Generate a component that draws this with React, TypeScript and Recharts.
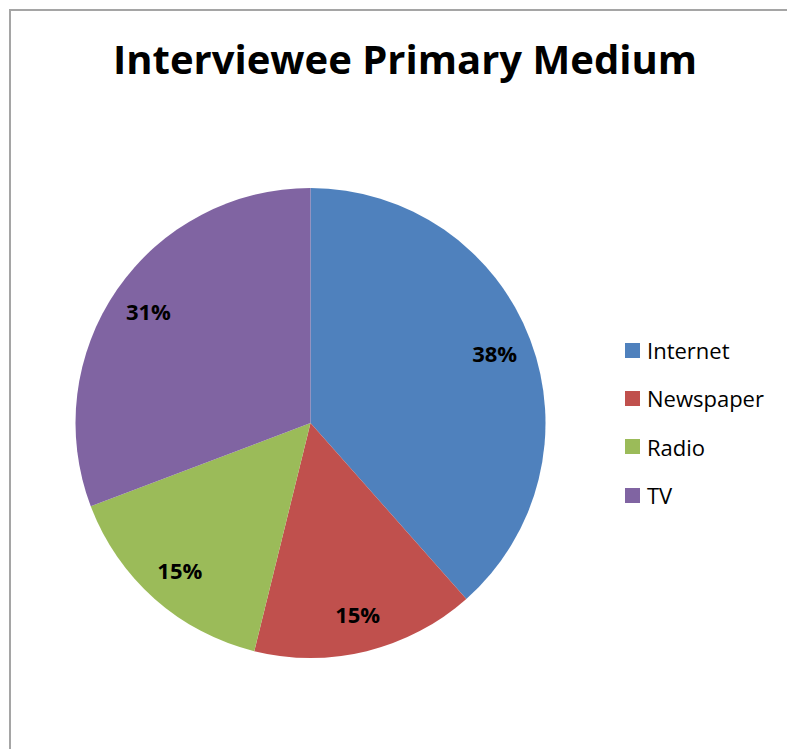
import { PieChart, Pie, Cell, Legend } from 'recharts';

const categories = ['Internet', 'Newspaper', 'Radio', 'TV'];
const counts = [5, 2, 2, 4];
const COLORS = ['#4F81BD', '#C0504D', '#9BBB59', '#8064A2'];

const data = categories.map((name, i) => ({ name, value: counts[i] }));
const total = counts.reduce((a, b) => a + b, 0);

const FONT = '"Open Sans", "Noto Sans", sans-serif';
const RAD = Math.PI / 180;

const renderLabel = ({ cx, cy, midAngle, value }: any) => {
    const r = 197;
    const x = cx + r * Math.cos(-midAngle * RAD);
    const y = cy + r * Math.sin(-midAngle * RAD);
    return (
        <text x={x} y={y} textAnchor="middle" dominantBaseline="central"
            fontFamily={FONT} fontWeight={700} fontSize={22} fill="#000">
            {Math.round((value / total) * 100) + '%'}
        </text>
    );
};

const CustomLegend = ({ payload }: any) => (
    <div>
        {(payload || []).map((p: any, i: number) => (
            <div key={i} style={{ display: 'flex', alignItems: 'center', height: 48.3 }}>
                <span style={{ width: 15, height: 15, background: p.color, display: 'inline-block', marginRight: 7 }} />
                <span style={{ fontFamily: FONT, fontSize: 22, color: '#000', lineHeight: '22px' }}>{p.value}</span>
            </div>
        ))}
    </div>
);

export default function App() {
    return (
        <div style={{ position: 'absolute', left: 0, top: 0, width: 787, height: 749, overflow: 'hidden', background: '#fff' }}>
            <div style={{ position: 'absolute', left: 8.5, top: 8.5, width: 800, height: 760, borderLeft: '2px solid #a5a5a5', borderTop: '2px solid #a5a5a5' }} />
            <svg width={787} height={100} style={{ position: 'absolute', left: 0, top: 0 }}>
                <text x={405} y={74} textAnchor="middle" fontFamily={FONT} fontWeight={700} fontSize={40}
                    textLength={584} lengthAdjust="spacingAndGlyphs" fill="#000">
                    Interviewee Primary Medium
                </text>
            </svg>
            <div style={{ position: 'absolute', left: 0, top: 0 }}>
                <PieChart width={787} height={749} margin={{ top: 0, right: 0, bottom: 0, left: 0 }}>
                    <Pie
                        data={data}
                        dataKey="value"
                        nameKey="name"
                        cx={310.5}
                        cy={423}
                        outerRadius={235}
                        startAngle={90}
                        endAngle={-270}
                        stroke="none"
                        label={renderLabel}
                        labelLine={false}
                        isAnimationActive={false}
                    >
                        {data.map((d, i) => (
                            <Cell key={d.name} fill={COLORS[i]} />
                        ))}
                    </Pie>
                    <Legend
                        layout="vertical"
                        content={<CustomLegend />}
                        wrapperStyle={{ position: 'absolute', left: 625, top: 326, width: 160 }}
                    />
                </PieChart>
            </div>
        </div>
    );
}
